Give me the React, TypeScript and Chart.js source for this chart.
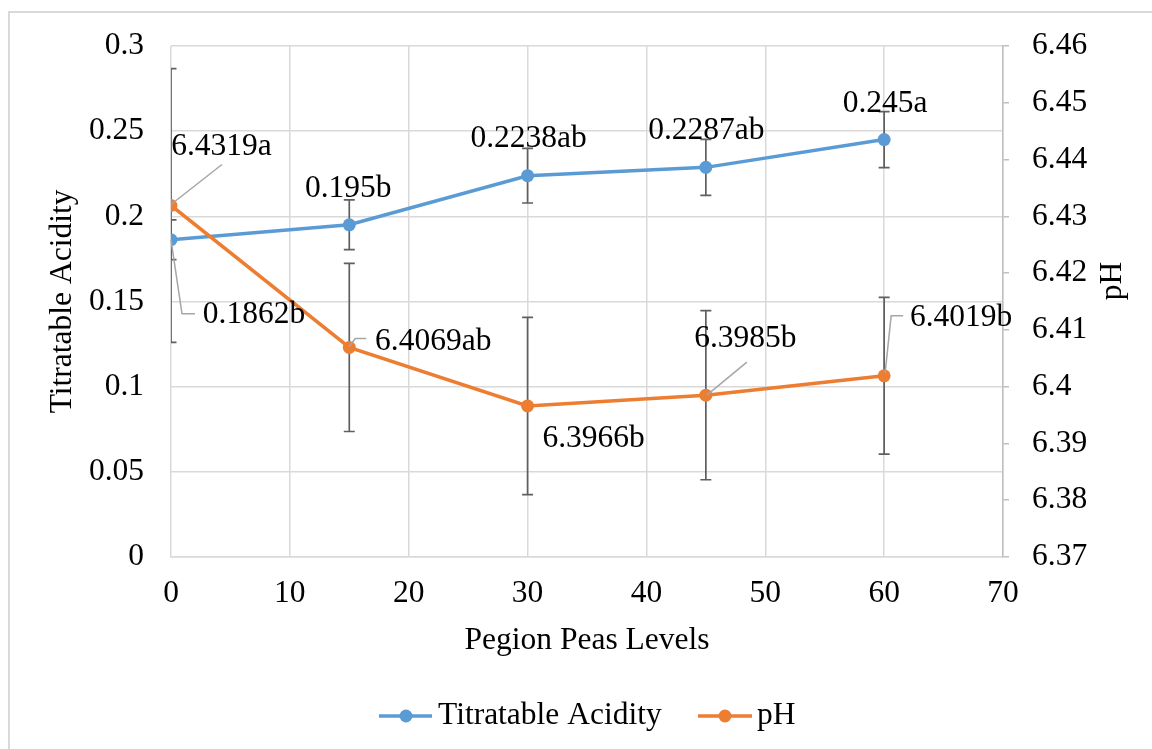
import React, { useEffect, useRef } from "react";
import { Chart, registerables } from "chart.js";

Chart.register(...registerables);

// ---- data ----
const levels = [0, 15, 30, 45, 60];
const taValues = [0.1862, 0.195, 0.2238, 0.2287, 0.245];
const taErrors = [0.0117, 0.0146, 0.016, 0.0164, 0.0164];
const taLabels = ["0.1862b", "0.195b", "0.2238ab", "0.2287ab", "0.245a"];
const phValues = [6.4319, 6.4069, 6.3966, 6.3985, 6.4019];
const phErrors = [0.0241, 0.0148, 0.0156, 0.0149, 0.0138];
const phLabels = ["6.4319a", "6.4069ab", "6.3966b", "6.3985b", "6.4019b"];
const seriesNames = ["Titratable Acidity", "pH"];
const xTitle = "Pegion Peas Levels";
const yTitle = "Titratable Acidity";
const y2Title = "pH";

// ---- styles / label placement (pixel offsets from each point) ----
const FONT = "'Liberation Serif', 'Times New Roman', serif";
const FS = 31.5;
const BLUE = "#5B9BD5";
const ORANGE = "#ED7D31";
const GRID = "#d9d9d9";

type LabelPos = { dx: number; dy: number; leader?: number[][] };
const taLabelPos: LabelPos[] = [
  { dx: 83, dy: 75, leader: [[0, 0], [11, 74], [24, 74]] },
  { dx: -1, dy: -36 },
  { dx: 1, dy: -37 },
  { dx: 0.5, dy: -36.5 },
  { dx: 1, dy: -35.5 },
];
const phLabelPos: LabelPos[] = [
  { dx: 50.5, dy: -59, leader: [[0, -1], [51, -41]] },
  { dx: 84, dy: -6, leader: [[0, -1], [6, -9], [17, -9]] },
  { dx: 66, dy: 33 },
  { dx: 39.5, dy: -56, leader: [[1, 0], [41, -33]] },
  { dx: 77, dy: -58, leader: [[1, -3], [7, -60], [19, -60]] },
];

const bgPlugin = {
  id: "bgBorder",
  beforeDraw(chart: any) {
    const ctx = chart.ctx;
    ctx.save();
    ctx.fillStyle = "#fff";
    ctx.fillRect(0, 0, chart.width, chart.height);
    ctx.strokeStyle = GRID;
    ctx.lineWidth = 2;
    ctx.strokeRect(9, 12, 1300, 900);
    ctx.restore();
  },
};

const errorBarPlugin = {
  id: "errorBars",
  beforeDatasetsDraw(chart: any) {
    const ctx = chart.ctx;
    const xs = chart.scales.x;
    const area = chart.chartArea;
    const sets = [
      { vals: taValues, errs: taErrors, scale: chart.scales.y },
      { vals: phValues, errs: phErrors, scale: chart.scales.y1 },
    ];
    ctx.save();
    ctx.beginPath();
    ctx.rect(area.left, 0, area.right - area.left, chart.height);
    ctx.clip();
    ctx.strokeStyle = "#5f5f5f";
    ctx.lineWidth = 1.7;
    sets.forEach((s) => {
      s.vals.forEach((v, i) => {
        const px = xs.getPixelForValue(levels[i]);
        const top = s.scale.getPixelForValue(v + s.errs[i]);
        const bot = s.scale.getPixelForValue(v - s.errs[i]);
        ctx.beginPath();
        ctx.moveTo(px, top);
        ctx.lineTo(px, bot);
        ctx.moveTo(px - 5.5, top);
        ctx.lineTo(px + 5.5, top);
        ctx.moveTo(px - 5.5, bot);
        ctx.lineTo(px + 5.5, bot);
        ctx.stroke();
      });
    });
    ctx.restore();
  },
};

const labelPlugin = {
  id: "dataLabels",
  afterDatasetsDraw(chart: any) {
    const ctx = chart.ctx;
    const xs = chart.scales.x;
    const groups = [
      { vals: taValues, labels: taLabels, pos: taLabelPos, scale: chart.scales.y },
      { vals: phValues, labels: phLabels, pos: phLabelPos, scale: chart.scales.y1 },
    ];
    ctx.save();
    groups.forEach((g) => {
      g.vals.forEach((v, i) => {
        const px = xs.getPixelForValue(levels[i]);
        const py = g.scale.getPixelForValue(v);
        const p = g.pos[i];
        if (p.leader) {
          ctx.strokeStyle = "#a6a6a6";
          ctx.lineWidth = 1.5;
          ctx.beginPath();
          p.leader.forEach((pt, k) => {
            if (k === 0) ctx.moveTo(px + pt[0], py + pt[1]);
            else ctx.lineTo(px + pt[0], py + pt[1]);
          });
          ctx.stroke();
        }
      });
    });
    ctx.font = `${FS}px ${FONT}`;
    ctx.fillStyle = "#000";
    ctx.textAlign = "center";
    ctx.textBaseline = "middle";
    groups.forEach((g) => {
      g.vals.forEach((v, i) => {
        const px = xs.getPixelForValue(levels[i]);
        const py = g.scale.getPixelForValue(v);
        const p = g.pos[i];
        ctx.fillText(g.labels[i], px + p.dx, py + p.dy);
      });
    });
    ctx.restore();
  },
};

const legendPlugin = {
  id: "customLegend",
  afterDraw(chart: any) {
    const ctx = chart.ctx;
    ctx.save();
    const y = 716;
    const items = [
      { x0: 379, x1: 432, cx: 406, tx: 438, color: BLUE, text: seriesNames[0] },
      { x0: 698, x1: 752, cx: 725, tx: 757, color: ORANGE, text: seriesNames[1] },
    ];
    items.forEach((it) => {
      ctx.strokeStyle = it.color;
      ctx.lineWidth = 3.5;
      ctx.beginPath();
      ctx.moveTo(it.x0, y);
      ctx.lineTo(it.x1, y);
      ctx.stroke();
      ctx.fillStyle = it.color;
      ctx.beginPath();
      ctx.arc(it.cx, y, 6.5, 0, Math.PI * 2);
      ctx.fill();
      ctx.fillStyle = "#000";
      ctx.font = `${FS}px ${FONT}`;
      ctx.textAlign = "left";
      ctx.textBaseline = "middle";
      ctx.fillText(it.text, it.tx, y);
    });
    // right axis title (rotated bottom-to-top)
    ctx.translate(1113, 281);
    ctx.rotate(-Math.PI / 2);
    ctx.textAlign = "center";
    ctx.textBaseline = "middle";
    ctx.fillText(y2Title, 0, 0);
    ctx.restore();
  },
};

const fmt = (v: any) => String(Number(Number(v).toFixed(2)));

export default function App() {
  const ref = useRef<HTMLCanvasElement | null>(null);
  useEffect(() => {
    if (!ref.current) return;
    const tickFont = { family: FONT, size: FS };
    const chart = new Chart(ref.current, {
      type: "line",
      data: {
        datasets: [
          {
            label: seriesNames[0],
            data: levels.map((x, i) => ({ x, y: taValues[i] })),
            borderColor: BLUE,
            backgroundColor: BLUE,
            borderWidth: 3.5,
            pointRadius: 6.5,
            pointBorderWidth: 0,
            pointBackgroundColor: BLUE,
            yAxisID: "y",
            order: 1,
          },
          {
            label: seriesNames[1],
            data: levels.map((x, i) => ({ x, y: phValues[i] })),
            borderColor: ORANGE,
            backgroundColor: ORANGE,
            borderWidth: 3.5,
            pointRadius: 6.5,
            pointBorderWidth: 0,
            pointBackgroundColor: ORANGE,
            yAxisID: "y1",
            order: 0,
          },
        ],
      },
      options: {
        responsive: false,
        animation: false,
        devicePixelRatio: 1,
        layout: { padding: { top: 44, bottom: 89.6, left: 0, right: 0 } },
        plugins: { legend: { display: false }, tooltip: { enabled: false } },
        scales: {
          x: {
            type: "linear",
            position: "bottom",
            min: 0,
            max: 70,
            ticks: { stepSize: 10, font: tickFont, color: "#000", padding: 18 },
            grid: { color: GRID, lineWidth: 1.5, drawTicks: false },
            border: { color: GRID, width: 1.5 },
            title: {
              display: true,
              text: xTitle,
              font: tickFont,
              color: "#000",
              padding: { top: 0, bottom: 0 },
            },
            afterFit(scale: any) {
              scale.height = 102.4;
            },
          },
          y: {
            type: "linear",
            position: "left",
            min: 0,
            max: 0.3,
            ticks: { stepSize: 0.05, font: tickFont, color: "#000", padding: 27, callback: fmt },
            grid: { color: GRID, lineWidth: 1.5, drawTicks: false },
            border: { display: false },
            title: {
              display: true,
              text: yTitle,
              font: tickFont,
              color: "#000",
              padding: { top: 44, bottom: 0 },
            },
            afterFit(scale: any) {
              scale.width = 171;
            },
          },
          y1: {
            type: "linear",
            position: "right",
            min: 6.37,
            max: 6.46,
            ticks: {
              stepSize: 0.01,
              font: tickFont,
              color: "#000",
              padding: 23,
              callback: fmt,
            },
            grid: {
              drawOnChartArea: false,
              color: "#bfbfbf",
              lineWidth: 1.5,
              tickLength: 6,
            },
            border: { color: "#bfbfbf", width: 1.5 },
            afterFit(scale: any) {
              scale.width = 149;
            },
          },
        },
      },
      plugins: [bgPlugin, errorBarPlugin, labelPlugin, legendPlugin],
    } as any);
    return () => chart.destroy();
  }, []);
  return (
    <div style={{ position: "absolute", left: 0, top: 0, width: 1152, height: 749, background: "#fff" }}>
      <canvas ref={ref} width={1152} height={749} style={{ display: "block" }} />
    </div>
  );
}
